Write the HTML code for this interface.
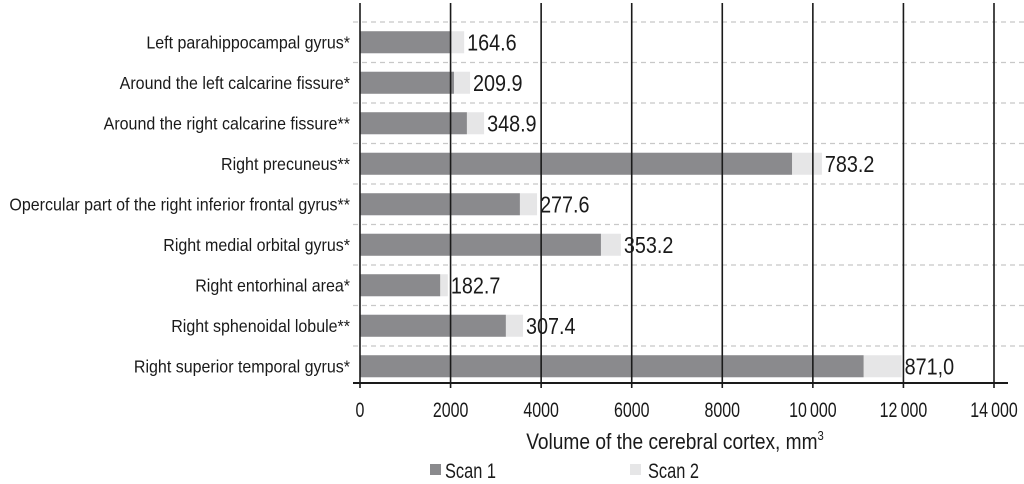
<!DOCTYPE html>
<html><head><meta charset="utf-8"><style>
body{margin:0;background:#fff}
svg{display:block;font-family:"Liberation Sans",sans-serif}
</style></head><body>
<svg id="chart" width="1024" height="484"></svg>
<script>
const categories=["Left parahippocampal gyrus*","Around the left calcarine fissure*","Around the right calcarine fissure**","Right precuneus**","Opercular part of the right inferior frontal gyrus**","Right medial orbital gyrus*","Right entorhinal area*","Right sphenoidal lobule**","Right superior temporal gyrus*"];
const scan1=[1990,2075,2360,9540,3530,5320,1770,3220,11120];
const scan2=[2300,2430,2740,10200,3910,5760,1940,3600,11960];
const printed=["164.6","209.9","348.9","783.2","277.6","353.2","182.7","307.4","871,0"];
const ticks=[0,2000,4000,6000,8000,10000,12000,14000];
const tickLabels=["0","2000","4000","6000","8000","10\u2009000","12\u2009000","14\u2009000"];
const NS="http://www.w3.org/2000/svg";
const svg=document.getElementById('chart');
const x0=360,x1=994,xmax=14000;
const X=v=>x0+(v/xmax)*(x1-x0);
const rowTop=22,rowH=40.5;
const Y=i=>rowTop+rowH*i+rowH/2;
function mk(t,a,parent){const e=document.createElementNS(NS,t);for(const k in a)e.setAttribute(k,a[k]);(parent||svg).appendChild(e);return e;}
function txt(x,y,s,size,anchor,sx){
 const g=mk('g',{transform:`translate(${x},${y}) scale(${sx},1)`});
 const t=mk('text',{x:0,y:0,'font-size':size,fill:'#1a1a1a','text-anchor':anchor},g);
 t.textContent=s;return t;
}
for(let i=0;i<categories.length;i++){
 const l=mk('line',{x1:353,x2:1024,y1:rowTop+rowH*i,y2:rowTop+rowH*i,stroke:'#c8c8c8','stroke-width':1.3,'stroke-dasharray':'5,4'});
 
 
}
categories.forEach((c,i)=>{
 const yc=Y(i);
 const b2=mk('rect',{x:X(0),y:yc-11,width:X(scan2[i])-X(0),height:22,fill:'#e6e6e7'});
 
 
 const b1=mk('rect',{x:X(0),y:yc-11,width:X(scan1[i])-X(0),height:22,fill:'#8a8a8d'});
 
 
 const t=txt(X(scan2[i])+3,yc+8,printed[i],23,'start',0.86);
 
 
 const lb=txt(350,yc+6,c,18,'end',0.89);
 
 
});
ticks.forEach((v,i)=>{
 const g=mk('line',{x1:X(v),x2:X(v),y1:3,y2:388,stroke:'#1a1a1a','stroke-width':1.6});
 
 
 const t=txt(X(v),417,tickLabels[i],21,'middle',0.76);
 
 
});
const ax=mk('line',{x1:353,x2:1008,y1:383,y2:383,stroke:'#1a1a1a','stroke-width':2});


const tg=mk('g',{transform:'translate(675,449) scale(0.87,1)'});
const tt=mk('text',{x:0,y:0,'font-size':22,fill:'#1a1a1a','text-anchor':'middle'},tg);
tt.innerHTML='Volume of the cerebral cortex, mm<tspan dy="-9" font-size="13">3</tspan>';


const l1=mk('rect',{x:430,y:464,width:11,height:11,fill:'#8a8a8d'});


const lt1=txt(445,478,'Scan 1',21,'start',0.78);


const l2=mk('rect',{x:630,y:464,width:11,height:11,fill:'#e6e6e7'});


const lt2=txt(648,478,'Scan 2',21,'start',0.78);


</script>
</body></html>
